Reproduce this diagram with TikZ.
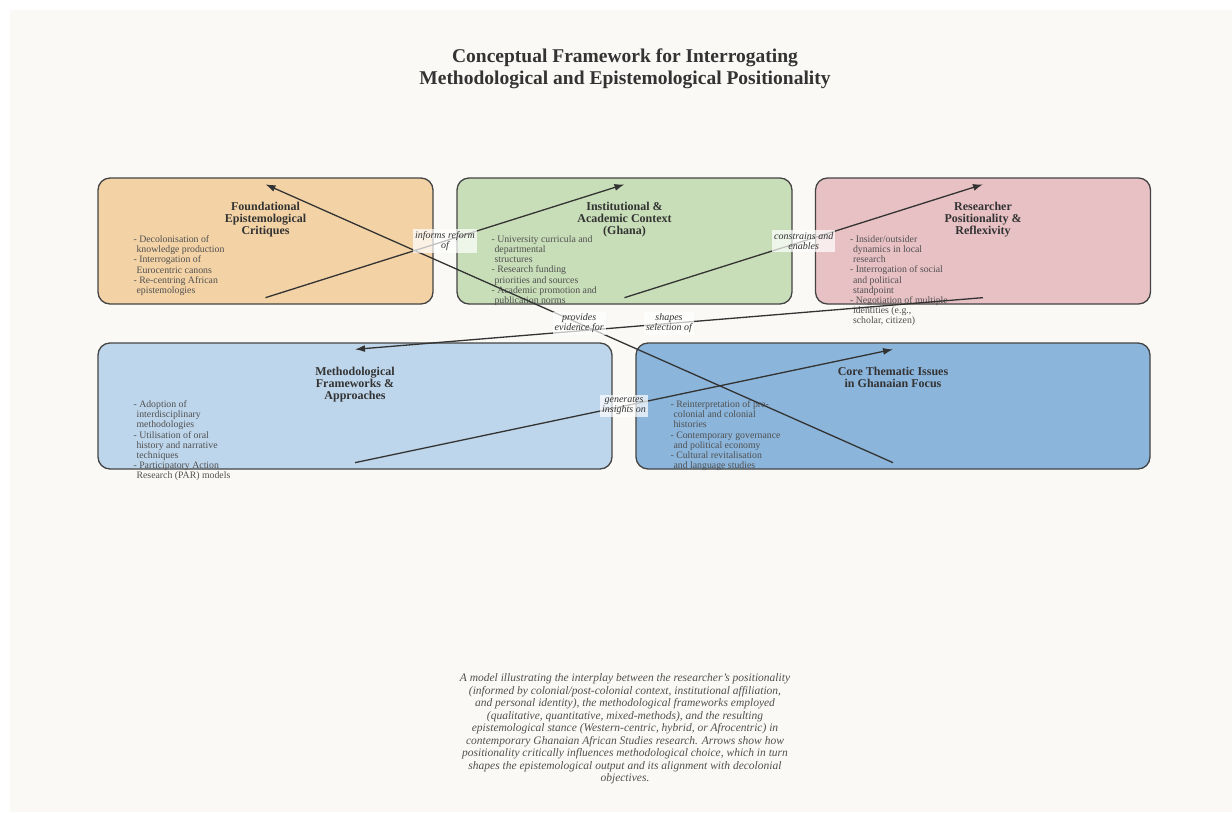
\documentclass[tikz,border=0pt]{standalone}
\usepackage{fontspec}
\setmainfont{Liberation Serif}
\usetikzlibrary{arrows.meta}

\definecolor{bgcream}{HTML}{FAF9F6}
\definecolor{edgegray}{HTML}{444444}
\definecolor{titlegray}{HTML}{333333}
\definecolor{listgray}{HTML}{505050}
\definecolor{foundfill}{HTML}{F3D3A6}
\definecolor{instfill}{HTML}{C8DEB8}
\definecolor{resrfill}{HTML}{E8C1C5}
\definecolor{methfill}{HTML}{BED6EB}
\definecolor{corefill}{HTML}{8BB5DB}

\begin{document}
\begin{tikzpicture}[
    x=1pt, y=-1pt,
    box/.style={draw=edgegray, line width=1.3pt, rounded corners=12pt, minimum height=126pt, inner sep=0pt},
    topbox/.style={box, minimum width=335pt},
    lowbox/.style={box, minimum width=514pt},
    boxtitle/.style={font=\fontsize{12}{11.8}\selectfont\bfseries, text=titlegray, align=center, anchor=north, inner sep=0pt},
    boxlist/.style={font=\fontsize{9.8}{10.2}\selectfont, text=listgray, align=left, anchor=north west, inner sep=0pt},
    arrow/.style={-{Latex[length=10pt, width=7pt]}, line width=1.3pt, draw=titlegray},
    edgelabel/.style={font=\fontsize{10}{10}\selectfont\itshape, text=titlegray, align=center, fill=white, fill opacity=0.7, text opacity=1, inner sep=2pt}
]
    \useasboundingbox (0,0) rectangle (1232,812);
    \fill[white] (0,0) rectangle (1232,812);
    \fill[bgcream] (10,10) rectangle (1232,812);

    % heading
    \node[font=\fontsize{19.5}{22}\selectfont\bfseries, text=titlegray, align=center] (heading) at (625,69)
        {Conceptual Framework for Interrogating\\Methodological and Epistemological Positionality};

    % the five boxes
    \node[topbox, fill=foundfill] (found) at (265.5,241) {};
    \node[topbox, fill=instfill] (inst) at (624.5,241) {};
    \node[topbox, fill=resrfill] (resr) at (983,241) {};
    \node[lowbox, fill=methfill] (meth) at (355,406) {};
    \node[lowbox, fill=corefill] (core) at (893,406) {};

    \node[boxtitle] (found-title) at ([yshift=-25pt]found.north) {Foundational\\Epistemological\\Critiques};
    \node[boxtitle] (inst-title) at ([yshift=-25pt]inst.north) {Institutional \&\\Academic Context\\(Ghana)};
    \node[boxtitle] (resr-title) at ([yshift=-25pt]resr.north) {Researcher\\Positionality \&\\Reflexivity};
    \node[boxtitle] (meth-title) at ([yshift=-25pt]meth.north) {Methodological\\Frameworks \&\\Approaches};
    \node[boxtitle] (core-title) at ([yshift=-25pt]core.north) {Core Thematic Issues\\in Ghanaian Focus};

    \node[boxlist] (found-list) at ([xshift=36pt, yshift=-58pt]found.north west)
        {- Decolonisation of\\\hspace*{3pt}knowledge production\\- Interrogation of\\\hspace*{3pt}Eurocentric canons\\- Re-centring African\\\hspace*{3pt}epistemologies};
    \node[boxlist] (inst-list) at ([xshift=35pt, yshift=-58pt]inst.north west)
        {- University curricula and\\\hspace*{3pt}departmental\\\hspace*{3pt}structures\\- Research funding\\\hspace*{3pt}priorities and sources\\- Academic promotion and\\\hspace*{3pt}publication norms};
    \node[boxlist] (resr-list) at ([xshift=35pt, yshift=-58pt]resr.north west)
        {- Insider/outsider\\\hspace*{3pt}dynamics in local\\\hspace*{3pt}research\\- Interrogation of social\\\hspace*{3pt}and political\\\hspace*{3pt}standpoint\\- Negotiation of multiple\\\hspace*{3pt}identities (e.g.,\\\hspace*{3pt}scholar, citizen)};
    \node[boxlist] (meth-list) at ([xshift=36pt, yshift=-58pt]meth.north west)
        {- Adoption of\\\hspace*{3pt}interdisciplinary\\\hspace*{3pt}methodologies\\- Utilisation of oral\\\hspace*{3pt}history and narrative\\\hspace*{3pt}techniques\\- Participatory Action\\\hspace*{3pt}Research (PAR) models};
    \node[boxlist] (core-list) at ([xshift=35pt, yshift=-58pt]core.north west)
        {- Reinterpretation of pre-\\\hspace*{3pt}colonial and colonial\\\hspace*{3pt}histories\\- Contemporary governance\\\hspace*{3pt}and political economy\\- Cultural revitalisation\\\hspace*{3pt}and language studies};

    % connectors, then their labels on top
    \foreach \src/\dst in {found/inst, inst/resr, resr/meth, meth/core, core/found}
        \draw[arrow] ([yshift=7pt]\src.south) -- ([yshift=-7pt]\dst.north);
    \foreach \src/\dst/\txt in {found/inst/{informs reform\\of}, inst/resr/{constrains and\\enables},
        resr/meth/{shapes\\selection of}, meth/core/{generates\\insights on}, core/found/{provides\\evidence for}}
        \path ([yshift=7pt]\src.south) -- node[edgelabel] {\txt} ([yshift=-7pt]\dst.north);

    % caption
    \node[font=\fontsize{11.5}{12.5}\selectfont\itshape, text=listgray, align=center] (caption) at (625,729)
        {A model illustrating the interplay between the researcher's positionality\\
         (informed by colonial/post-colonial context, institutional affiliation,\\
         and personal identity), the methodological frameworks employed\\
         (qualitative, quantitative, mixed-methods), and the resulting\\
         epistemological stance (Western-centric, hybrid, or Afrocentric) in\\
         contemporary Ghanaian African Studies research. Arrows show how\\
         positionality critically influences methodological choice, which in turn\\
         shapes the epistemological output and its alignment with decolonial\\
         objectives.};
\end{tikzpicture}
\end{document}
